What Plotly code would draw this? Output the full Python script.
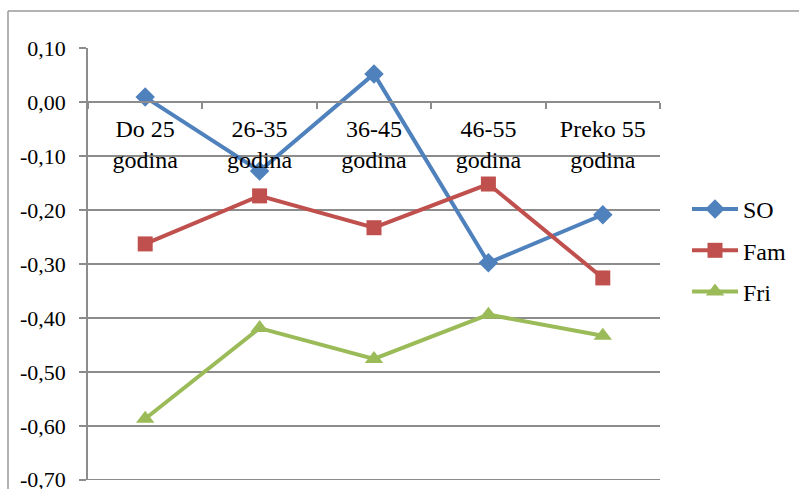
import plotly.graph_objects as go

categories = ["Do 25<br>godina", "26-35<br>godina", "36-45<br>godina", "46-55<br>godina", "Preko 55<br>godina"]
so_values = [0.009, -0.128, 0.052, -0.298, -0.209]
fam_values = [-0.263, -0.174, -0.233, -0.152, -0.326]
fri_values = [-0.587, -0.419, -0.476, -0.394, -0.433]
y_ticks = [0.1, 0.0, -0.1, -0.2, -0.3, -0.4, -0.5, -0.6, -0.7]
y_tick_labels = ["0,10", "0,00", "-0,10", "-0,20", "-0,30", "-0,40", "-0,50", "-0,60", "-0,70"]

FONT = "'Liberation Serif', 'Times New Roman', serif"
GRID = "#8c8c8c"

fig = go.Figure()
series = [
    ("SO", so_values, "#4F81BD", "diamond", 15),
    ("Fam", fam_values, "#C0504D", "square", 15),
    ("Fri", fri_values, "#9BBB59", "triangle-up", 16),
]
for name, vals, col, sym, sz in series:
    fig.add_trace(go.Scatter(
        x=categories, y=vals, name=name, mode="lines+markers",
        line=dict(color=col, width=4),
        marker=dict(symbol=sym, size=sz, color=col),
        legendgroup=name,
    ))

W, H = 799, 489
L, R, T, B = 88, 660, 48, 480
fig.update_layout(
    width=W, height=H,
    margin=dict(l=L, r=W - R, t=T, b=H - B, pad=0, autoexpand=False),
    paper_bgcolor="white", plot_bgcolor="white",
    font=dict(family=FONT, size=22, color="black"),
    showlegend=True,
    legend=dict(
        x=(687 - L) / (R - L), y=(480 - 187) / (B - T), xanchor="left", yanchor="top",
        font=dict(family=FONT, size=24, color="black"),
        traceorder="grouped", tracegroupgap=7, itemwidth=46,
        bgcolor="rgba(0,0,0,0)",
    ),
    xaxis=dict(
        type="category", anchor="free", position=0.875, automargin=False,
        showline=True, linecolor=GRID, linewidth=1.5,
        showgrid=False, zeroline=False,
        ticks="outside", ticklen=6, tickcolor=GRID, tickwidth=1.5,
        tickson="boundaries", ticklabelstandoff=5,
        tickfont=dict(family=FONT, size=24, color="black"),
        range=[-0.5, 4.5],
    ),
    yaxis=dict(
        range=[-0.7004, 0.1], automargin=False,
        tickvals=y_ticks, ticktext=y_tick_labels,
        ticklabeloverflow="allow", ticklabelstandoff=9,
        showline=True, linecolor=GRID, linewidth=1.5,
        showgrid=True, gridcolor=GRID, gridwidth=1.5,
        zeroline=False,
        ticks="outside", ticklen=7, tickcolor=GRID, tickwidth=1.5,
        tickfont=dict(family=FONT, size=22, color="black"),
    ),
)

# outer chart frame (left and top edges visible)
fx0 = (8 - L) / (R - L)
fy1 = (B - 11) / (B - T)
fig.add_shape(type="line", xref="paper", yref="paper", x0=fx0, x1=(W + 10 - L) / (R - L), y0=fy1, y1=fy1,
              line=dict(color="#9a9a9a", width=1.5), layer="below")
fig.add_shape(type="line", xref="paper", yref="paper", x0=fx0, x1=fx0, y0=fy1, y1=(B - H - 10) / (B - T),
              line=dict(color="#9a9a9a", width=1.5), layer="below")
# bottom gridline at -0.70 (plotly skips gridlines at the range edge)
fig.add_shape(type="line", xref="paper", yref="y", x0=0, x1=1, y0=y_ticks[-1], y1=y_ticks[-1],
              line=dict(color=GRID, width=1.5), layer="below")

fig.write_html("out.html")
